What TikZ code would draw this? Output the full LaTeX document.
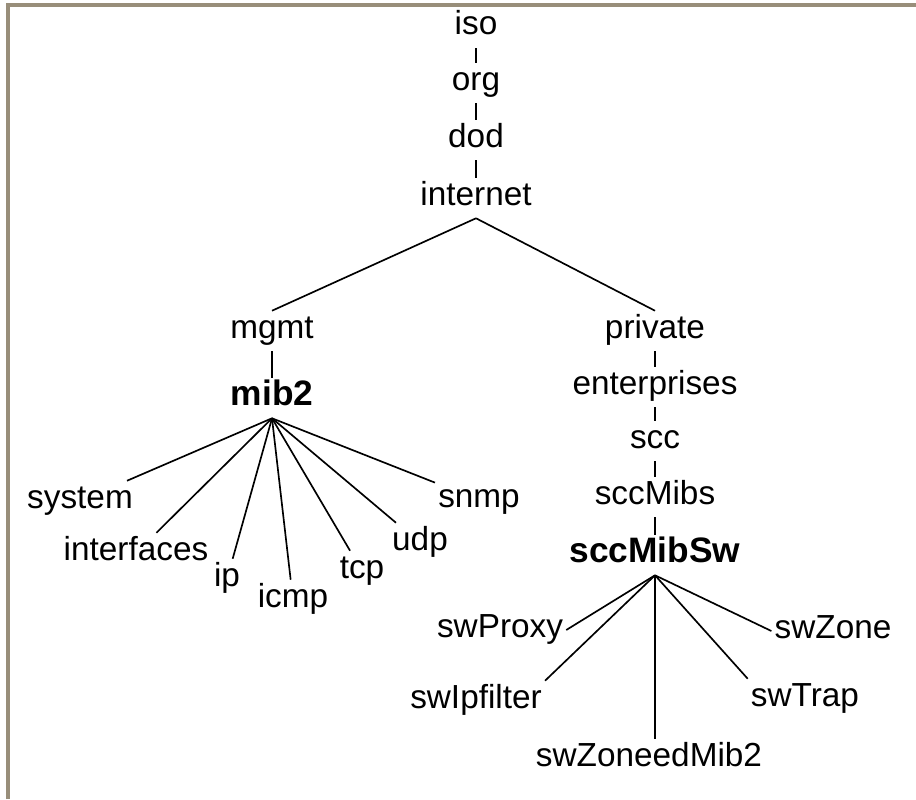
\documentclass[tikz,border=0pt]{standalone}
\usepackage{fontspec}
\setmainfont{Liberation Sans}
\usepackage{tikz}
\newcommand{\treefont}{\fontsize{25}{30}\selectfont}
\newcommand{\grpfont}{\fontsize{26.5}{31}\selectfont\bfseries}
\definecolor{frame}{RGB}{152,142,122}

\begin{document}
\begin{tikzpicture}[x=0.75pt,y=-0.75pt, oid/.style={font=\treefont,anchor=base,inner sep=2.25pt,
  text height=18pt,text depth=7.5pt}, grp/.style={oid,font=\grpfont}, br/.style={line width=1.25pt}]
  \useasboundingbox (0,0) rectangle (916,799);
  \draw[frame,line width=3pt] (7.5,799) -- (7.5,5) -- (916,5);
  % top chain
  \node[oid] (iso) at (476,35) {iso};
  \node[oid] (org) at (476,90) {org};
  \node[oid] (dod) at (476,147) {dod};
  \node[oid] (inet) at (476,205) {internet};
  \draw[br](iso.south)--(org.north);\draw[br](org.south)--(dod.north);\draw[br](dod.south)--(inet.north);
  % mgmt branch
  \node[oid] (mgmt) at (272,338) {mgmt};
  \node[grp] (mib) at (272,405) {mib2};
  \node[oid] (sys) at (80,508) {system};
  \node[oid] (ifc) at (136,560) {interfaces};
  \node[oid] (ip) at (227,586) {ip};
  \node[oid] (icmp) at (293,607) {icmp};
  \node[oid] (tcp) at (362,578) {tcp};
  \node[oid] (udp) at (420,550) {udp};
  \node[oid] (snmp) at (479,507) {snmp};
  % private branch
  \node[oid] (priv) at (655,338) {private};
  \node[oid] (ent) at (655,394) {enterprises};
  \node[oid] (scc) at (655,448) {scc};
  \node[oid] (mibs) at (655,504) {sccMibs};
  \node[grp] (mibsw) at (655,562) {sccMibSw};
  \node[oid] (prx) at (500,637) {swProxy};
  \node[oid] (zone) at (833,638) {swZone};
  \node[oid] (flt) at (476,708) {swIpfilter};
  \node[oid] (trp) at (805,706) {swTrap};
  \node[oid] (zmib) at (649,766) {swZoneedMib2};
  \draw[br](inet.south)--(mgmt.north);\draw[br](inet.south)--(priv.north);
  \draw[br](mgmt.south)--(mib.north);
  \draw[br](mib.south)--(sys);\draw[br](mib.south)--(ifc);\draw[br](mib.south)--(ip);
  \draw[br](mib.south)--(icmp);\draw[br](mib.south)--(tcp);\draw[br](mib.south)--(udp);
  \draw[br](mib.south)--(snmp);
  \draw[br](priv.south)--(ent.north);\draw[br](ent.south)--(scc.north);
  \draw[br](scc.south)--(mibs.north);\draw[br](mibs.south)--(mibsw.north);
  \draw[br](mibsw.south)--(prx.east);\draw[br](mibsw.south)--(flt.north east);
  \draw[br](mibsw.south)--(mibsw.south |- zmib.north);\draw[br](mibsw.south)--(trp.north west);
  \draw[br](mibsw.south)--(zone.west);
\end{tikzpicture}
\end{document}
